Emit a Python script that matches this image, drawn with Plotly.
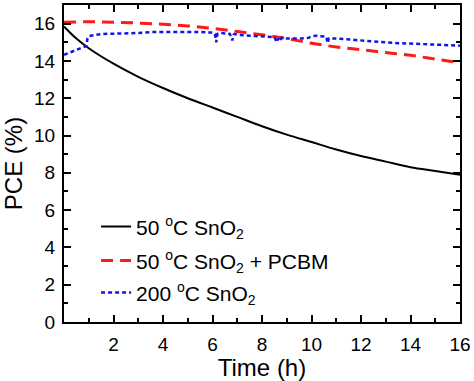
import plotly.graph_objects as go

# Black: 50 °C SnO2
black_t = [0, 0.5, 1, 2, 3, 4, 5, 6, 7, 8, 9, 10, 11, 12, 13, 14, 15, 16]
black_v = [15.85, 15.2, 14.68, 13.85, 13.15, 12.55, 12.0, 11.5, 11.0, 10.5, 10.05,
           9.65, 9.25, 8.9, 8.6, 8.3, 8.1, 7.9]

# Red: 50 °C SnO2 + PCBM
red_t = [0, 1, 2, 3, 4, 5, 6, 7, 8, 9, 10, 11, 12, 13, 14, 15, 16]
red_v = [16.08, 16.1, 16.08, 16.03, 15.97, 15.88, 15.75, 15.58, 15.4, 15.2, 14.95,
         14.75, 14.6, 14.45, 14.3, 14.1, 13.9]

# Blue: 200 °C SnO2
blue_t = [0, 0.3, 0.6, 0.9, 0.95, 1.0, 1.3, 1.6, 2.0, 2.5, 3.0, 3.5, 4.0, 4.3, 4.5,
          5.0, 5.5, 6.0, 6.1, 6.15, 6.2, 6.3, 6.7, 6.8, 6.85, 6.9, 7.0, 7.5, 8.0,
          8.2, 8.5, 8.6, 8.65, 8.7, 8.8, 9.0, 9.3, 9.6, 9.9, 10.0, 10.2, 10.5, 10.6,
          10.65, 10.7, 11.0, 11.5, 12.0, 12.5, 13.0, 13.5, 14.0, 14.5, 15.0, 15.5, 16.0]
blue_v = [14.33, 14.5, 14.65, 14.8, 15.2, 15.33, 15.4, 15.45, 15.46, 15.47, 15.5, 15.55,
          15.55, 15.57, 15.56, 15.55, 15.55, 15.52, 15.45, 15.0, 15.45, 15.5, 15.45, 15.1,
          15.4, 15.45, 15.4, 15.35, 15.3, 15.3, 15.28, 15.0, 15.2, 15.05, 15.25, 15.2,
          15.2, 15.2, 15.25, 15.32, 15.35, 15.32, 15.3, 14.95, 15.2, 15.2, 15.15, 15.1,
          15.05, 14.97, 14.95, 14.93, 14.9, 14.88, 14.85, 14.82]

x_ticks = [2, 4, 6, 8, 10, 12, 14, 16]
y_ticks = [0, 2, 4, 6, 8, 10, 12, 14, 16]

deg = "<sup><span style='font-size:14px'>o</span></sup>"
sub2 = "<sub><span style='font-size:14px'>2</span></sub>"
names = ["50 " + deg + "C SnO" + sub2,
         "50 " + deg + "C SnO" + sub2 + " + PCBM",
         "200 " + deg + "C SnO" + sub2]

fig = go.Figure()
fig.add_trace(go.Scatter(x=black_t, y=black_v, mode="lines", name=names[0], legend="legend",
                         line=dict(color="black", width=2, shape="spline")))
fig.add_trace(go.Scatter(x=red_t, y=red_v, mode="lines", name=names[1], legend="legend2",
                         line=dict(color="#ff1a1a", width=3, dash="12px,7px", shape="spline")))
fig.add_trace(go.Scatter(x=blue_t, y=blue_v, mode="lines", name=names[2], legend="legend3",
                         line=dict(color="#1414e6", width=2.5, dash="4px,3px")))

font = "Arial, Liberation Sans, sans-serif"
axis_common = dict(
    showline=True, linecolor="black", linewidth=2, mirror="ticks",
    ticks="inside", ticklen=7, tickwidth=2, tickcolor="black",
    showgrid=False, zeroline=False,
    tickfont=dict(family=font, size=19, color="black"),
)

fig.update_xaxes(range=[0, 16], tickvals=x_ticks,
                 minor=dict(dtick=1, tick0=0, ticks="inside", ticklen=4, tickwidth=2, tickcolor="black"),
                 title=dict(text="Time (h)", font=dict(family=font, size=24, color="black"), standoff=3),
                 ticklabelstandoff=4, **axis_common)
fig.update_yaxes(range=[0, 17], tickvals=y_ticks,
                 minor=dict(dtick=1, tick0=0, ticks="inside", ticklen=4, tickwidth=2, tickcolor="black"),
                 title=dict(text="PCE (%)", font=dict(family=font, size=24, color="black"), standoff=8),
                 ticklabelstandoff=3, **axis_common)

leg_common = dict(xanchor="left", yanchor="middle", bgcolor="rgba(0,0,0,0)",
                  font=dict(family=font, size=21, color="black"), borderwidth=0)
fig.update_layout(
    width=474, height=381,
    margin=dict(l=64, r=12, t=3, b=59),
    paper_bgcolor="white", plot_bgcolor="white",
    showlegend=True,
    legend=dict(x=0.081, y=0.3, **leg_common),
    legend2=dict(x=0.081, y=0.193, **leg_common),
    legend3=dict(x=0.081, y=0.092, **leg_common),
)

fig.write_html("out.html", config={"displayModeBar": False},
               post_script="document.body.style.margin='0';")
